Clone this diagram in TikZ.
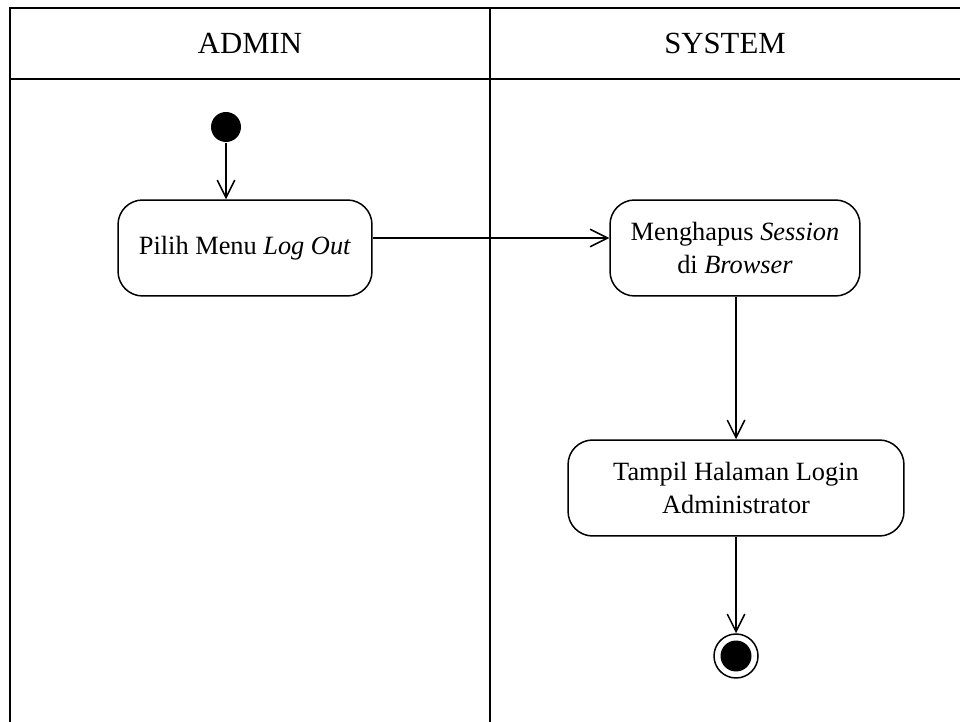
\documentclass[tikz,border=0pt]{standalone}
\usepackage{fontspec}
\setmainfont{Liberation Serif}
\usetikzlibrary{arrows.meta}

\begin{document}
\begin{tikzpicture}
  [x=0.02cm,y=0.02cm,->,>={Straight Barb[length=10pt,width=10pt]},line width=0.85pt,
   every node/.style={font=\fontsize{15}{19}\selectfont},
   lane/.style={-,line width=1.2pt},
   lanehead/.style={font=\fontsize{17.5}{21}\selectfont},
   act/.style={draw,rounded corners=14pt,align=center,minimum height=1.92cm},
   startst/.style={circle,fill=black,minimum size=0.6cm,inner sep=0pt},
   endst/.style={circle,draw,minimum size=0.88cm,inner sep=0pt,
     path picture={\fill (path picture bounding box.center) circle (0.31cm);}}]
  \useasboundingbox (0,0) rectangle (960,-722);

  % swimlanes
  \draw[lane] (10,-722) -- (10,-8) -- (960,-8);
  \draw[lane] (10,-79) -- (960,-79);
  \draw[lane] (490,-8) -- (490,-722);
  \node[lanehead] (hadmin) at (250,-43) {ADMIN};
  \node[lanehead] (hsystem) at (725,-43) {SYSTEM};

  % activities
  \node[startst] (start) at (226,-127) {};
  \node[act,minimum width=5.08cm] (logout) at (245,-248) {Pilih Menu \textit{Log Out}};
  \node[act,minimum width=5cm] (session) at (735,-248) {Menghapus \textit{Session}\\di \textit{Browser}};
  \node[act,minimum width=6.72cm] (login) at (736,-488) {Tampil Halaman Login\\Administrator};
  \node[endst] (end) at (736,-656) {};

  \draw (start) -- (start |- logout.north);
  \draw ([yshift=0.2cm]logout.east) -- ([yshift=0.2cm]session.west);
  \draw (session.south -| login.north) -- (login);
  \draw (login) -- (end);

\end{tikzpicture}
\end{document}
